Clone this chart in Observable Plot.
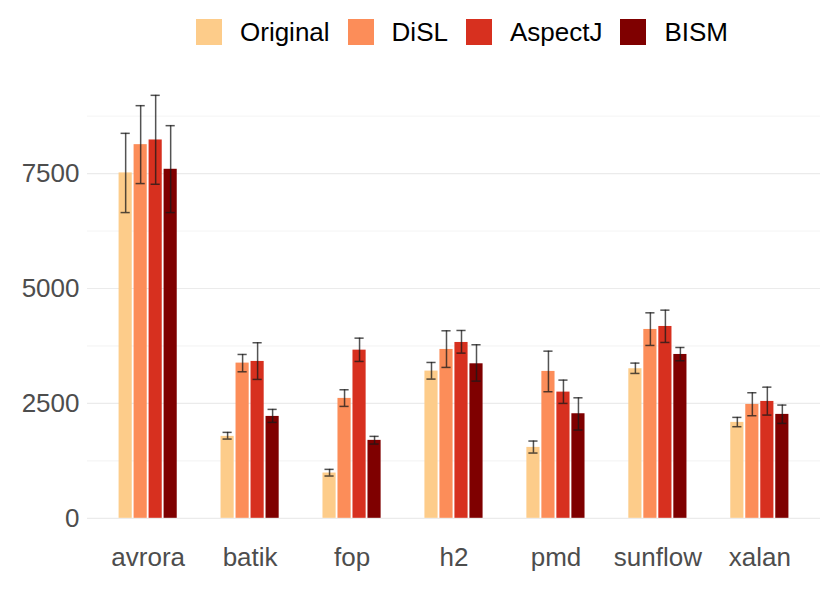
<!DOCTYPE html>
<html>
<head>
<meta charset="utf-8">
<script src="https://cdn.jsdelivr.net/npm/d3@7"></script>
<script src="https://cdn.jsdelivr.net/npm/@observablehq/plot@0.6"></script>
<style>
  body { margin: 0; background: #fff; font-family: "Liberation Sans", Arial, sans-serif; }
  #wrap { width: 830px; height: 593px; position: relative; }
  #legend { height: 64px; width: 830px; display: flex; align-items: center; padding-left: 196px; box-sizing: border-box; }
  .sw { width: 26px; height: 26px; flex: none; }
  .lab { font-size: 26px; color: #000; margin-left: 18px; margin-right: 18px; white-space: nowrap; line-height: 1; }
  svg { display: block; }
</style>
</head>
<body>
<div id="wrap">
  <div id="legend"></div>
  <div id="chart"></div>
</div>
<script>
const benchmarks = ["avrora", "batik", "fop", "h2", "pmd", "sunflow", "xalan"];
const methods = ["Original", "DiSL", "AspectJ", "BISM"];
const colors = ["#fdcc8a", "#fc8d59", "#d7301f", "#7f0000"];

const originalMean = [7515, 1783, 985, 3203, 1543, 3254, 2087];
const originalLow  = [6652, 1724, 920, 3029, 1420, 3152, 1993];
const originalHigh = [8376, 1870, 1065, 3391, 1681, 3377, 2196];

const dislMean = [8130, 3377, 2609, 3674, 3196, 4109, 2478];
const dislLow  = [7283, 3188, 2435, 3283, 2754, 3761, 2232];
const dislHigh = [8978, 3565, 2797, 4080, 3637, 4471, 2732];

const aspectjMean = [8232, 3413, 3659, 3826, 2746, 4174, 2543];
const aspectjLow  = [7268, 3022, 3413, 3594, 2500, 3826, 2246];
const aspectjHigh = [9203, 3820, 3920, 4087, 3007, 4529, 2854];

const bismMean = [7594, 2217, 1696, 3362, 2275, 3565, 2261];
const bismLow  = [6652, 2087, 1616, 2985, 1920, 3428, 2065];
const bismHigh = [8543, 2370, 1783, 3776, 2622, 3717, 2464];

const yTicks = [0, 2500, 5000, 7500];
const yMinor = [1250, 3750, 6250, 8750];

const series = [
  [originalMean, originalLow, originalHigh],
  [dislMean, dislLow, dislHigh],
  [aspectjMean, aspectjLow, aspectjHigh],
  [bismMean, bismLow, bismHigh]
];

const rows = [];
methods.forEach((m, i) => {
  benchmarks.forEach((b, j) => {
    rows.push({benchmark: b, method: m, idx: i, mean: series[i][0][j], lo: series[i][1][j], hi: series[i][2][j]});
  });
});

// legend
const legend = document.getElementById("legend");
methods.forEach((m, i) => {
  const sw = document.createElement("div");
  sw.className = "sw";
  sw.style.background = colors[i];
  const lab = document.createElement("div");
  lab.className = "lab";
  lab.textContent = m;
  legend.appendChild(sw);
  legend.appendChild(lab);
});

const step = 15;
const marks = [
  Plot.ruleY(yMinor, {stroke: "#ebebeb", strokeWidth: 0.6}),
  Plot.ruleY(yTicks, {stroke: "#ebebeb", strokeWidth: 1.2})
];
methods.forEach((m, i) => {
  const d = rows.filter(r => r.idx === i);
  marks.push(Plot.barY(d, {x: "benchmark", y: "mean", fill: "method", insetLeft: i * step + 1, insetRight: (3 - i) * step + 1}));
});
methods.forEach((m, i) => {
  const d = rows.filter(r => r.idx === i);
  const eb = {stroke: "#1a1a1a", strokeOpacity: 0.75, strokeWidth: 1.5};
  marks.push(Plot.ruleX(d, {x: "benchmark", y1: "lo", y2: "hi", dx: (i - 1.5) * step, ...eb}));
  marks.push(Plot.tickY(d, {x: "benchmark", y: "lo", insetLeft: i * step + 3, insetRight: (3 - i) * step + 3, ...eb}));
  marks.push(Plot.tickY(d, {x: "benchmark", y: "hi", insetLeft: i * step + 3, insetRight: (3 - i) * step + 3, ...eb}));
});
marks.push(Plot.axisY({ticks: yTicks, tickSize: 0, tickPadding: 8, fontSize: 26, fill: "#4d4d4d", tickFormat: d => String(d)}));
marks.push(Plot.axisX({tickSize: 0, tickPadding: 8, fontSize: 26, fill: "#4d4d4d"}));

const chart = Plot.plot({
  width: 830,
  height: 529,
  marginLeft: 87,
  marginRight: 10,
  marginTop: 9,
  marginBottom: 54,
  style: {fontFamily: "'Liberation Sans', Arial, sans-serif", background: "#fff"},
  x: {domain: benchmarks, paddingInner: 0.41, paddingOuter: 0.3, round: false, label: null},
  y: {domain: [-461, 9678], label: null},
  color: {domain: methods, range: colors},
  marks
});
document.getElementById("chart").appendChild(chart);
</script>
</body>
</html>
